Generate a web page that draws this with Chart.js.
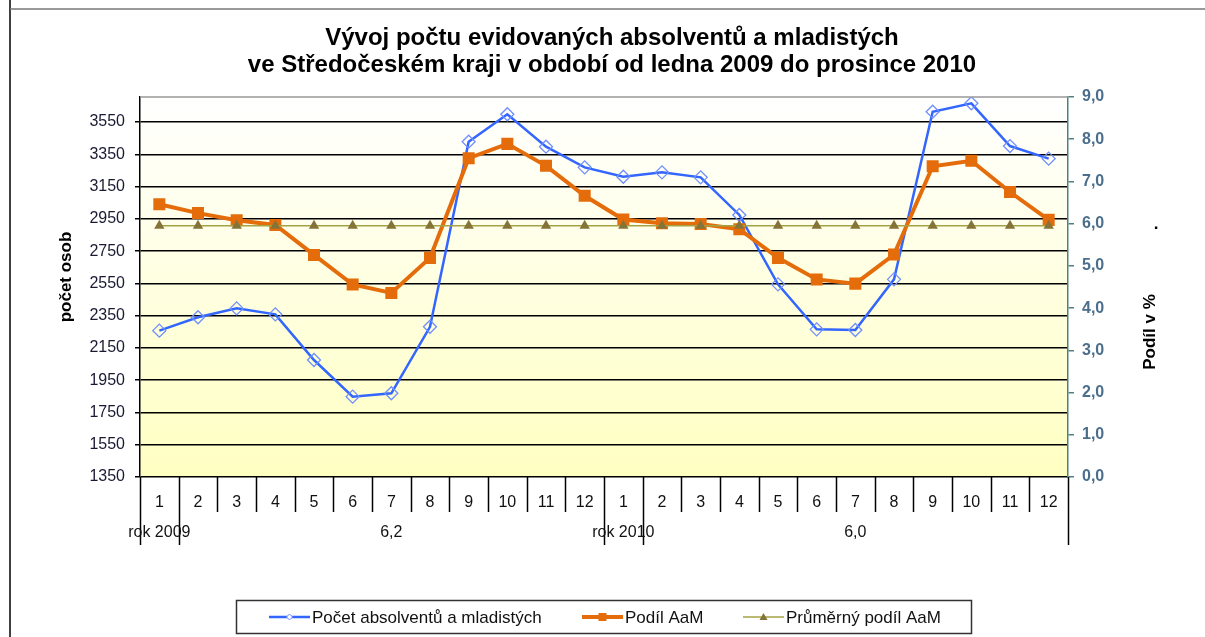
<!DOCTYPE html>
<html>
<head>
<meta charset="utf-8">
<script src="https://cdn.jsdelivr.net/npm/chart.js@4.4.1/dist/chart.umd.min.js"></script>
<style>
  html, body { margin: 0; padding: 0; background: #fff; }
  #wrap { width: 1205px; height: 637px; }
</style>
</head>
<body>
<div id="wrap"><canvas id="chart" width="1205" height="637"></canvas></div>
<script>
// months of 2009 and 2010
var months = ["1", "2", "3", "4", "5", "6", "7", "8", "9", "10", "11", "12",
              "1", "2", "3", "4", "5", "6", "7", "8", "9", "10", "11", "12"];

// počet absolventů a mladistých (left axis)
var pocet = [2257, 2340, 2395, 2358, 2075, 1848, 1869, 2281, 3428, 3598, 3397, 3269,
             3211, 3238, 3207, 2974, 2544, 2265, 2261, 2575, 3614, 3666, 3401, 3323];

// podíl AaM v % (right axis)
var podil = [6.46, 6.25, 6.08, 5.97, 5.26, 4.56, 4.36, 5.19, 7.55, 7.89, 7.37, 6.66,
             6.10, 6.01, 5.99, 5.87, 5.19, 4.68, 4.58, 5.27, 7.36, 7.49, 6.75, 6.09];

// průměrný podíl AaM
var prumer = [5.95, 5.95, 5.95, 5.95, 5.95, 5.95, 5.95, 5.95, 5.95, 5.95, 5.95, 5.95,
              5.95, 5.95, 5.95, 5.95, 5.95, 5.95, 5.95, 5.95, 5.95, 5.95, 5.95, 5.95];

// second row of category labels and the month spans they cover
var groupLabels = ["rok 2009", "6,2", "rok 2010", "6,0"];
var groupFrom = [0, 1, 12, 13];
var groupTo = [1, 12, 13, 24];

var leftTicks = [1350, 1550, 1750, 1950, 2150, 2350, 2550, 2750, 2950, 3150, 3350, 3550];

var titleLines = ["Vývoj počtu evidovaných absolventů a mladistých",
                  "ve Středočeském kraji v období od ledna 2009 do prosince 2010"];
var seriesNames = ["Počet absolventů a mladistých", "Podíl AaM", "Průměrný podíl AaM"];

var FONT = "'Liberation Sans', Arial, sans-serif";
var BLUE = "#3366ff", ORANGE = "#e46c0a", OLIVE = "#a3a345", OLIVE_PT = "#857438", TEAL = "#4f8080";

var decor = {
  id: "decor",
  beforeDraw: function (chart) {
    var ctx = chart.ctx, a = chart.chartArea;
    ctx.save();
    ctx.fillStyle = "#fff";
    ctx.fillRect(0, 0, chart.width, chart.height);
    var g = ctx.createLinearGradient(0, a.top, 0, a.bottom);
    g.addColorStop(0, "#ffffff");
    g.addColorStop(1, "#ffffc2");
    ctx.fillStyle = g;
    ctx.fillRect(a.left, a.top, a.right - a.left, a.bottom - a.top);
    ctx.restore();
  },
  afterDraw: function (chart) {
    var ctx = chart.ctx, a = chart.chartArea, x = chart.scales.x;
    var cell = (x.right - x.left) / months.length;
    ctx.save();

    // frame of the chart object
    ctx.strokeStyle = "#000";
    ctx.lineWidth = 1.5;
    ctx.beginPath();
    ctx.moveTo(10, 0); ctx.lineTo(10, chart.height);
    ctx.stroke();
    ctx.strokeStyle = "#777";
    ctx.beginPath();
    ctx.moveTo(10, 9); ctx.lineTo(chart.width, 9);
    ctx.stroke();

    // top edge of plot area
    ctx.strokeStyle = "#999";
    ctx.lineWidth = 1.5;
    ctx.beginPath();
    ctx.moveTo(a.left, a.top); ctx.lineTo(a.right, a.top);
    ctx.stroke();

    // category table separators
    ctx.strokeStyle = "#000";
    ctx.lineWidth = 1.5;
    for (var b = 0; b <= months.length; b++) {
      var px = Math.round(x.left + b * cell) + 0.5;
      var long = groupFrom.indexOf(b) >= 0 || b === months.length;
      ctx.beginPath();
      ctx.moveTo(px, a.bottom);
      ctx.lineTo(px, a.bottom + (long ? 68 : 35));
      ctx.stroke();
    }

    // second row labels
    ctx.fillStyle = "#111";
    ctx.font = "16px " + FONT;
    ctx.textAlign = "center";
    ctx.textBaseline = "middle";
    for (var i = 0; i < groupLabels.length; i++) {
      var cx = x.left + (groupFrom[i] + groupTo[i]) / 2 * cell;
      ctx.fillText(groupLabels[i], cx, a.bottom + 56);
    }

    // title
    ctx.fillStyle = "#000";
    ctx.font = "bold 24px " + FONT;
    ctx.fillText(titleLines[0], 612, 38);
    ctx.fillText(titleLines[1], 612, 65);

    // axis titles
    ctx.font = "bold 17px " + FONT;
    ctx.save();
    ctx.translate(66, 277);
    ctx.rotate(-Math.PI / 2);
    ctx.fillText("počet osob", 0, 0);
    ctx.restore();
    ctx.save();
    ctx.translate(1150, 332);
    ctx.rotate(-Math.PI / 2);
    ctx.fillText("Podíl v %", 0, 0);
    ctx.restore();
    ctx.fillText(".", 1156, 224);

    // legend
    ctx.strokeStyle = "#333";
    ctx.lineWidth = 1.5;
    ctx.strokeRect(236.5, 600.5, 735, 33);
    var ly = 617;
    var starts = [269, 582, 743];
    var colors = [BLUE, ORANGE, OLIVE];
    var widths = [2.5, 4, 1.5];
    ctx.font = "17px " + FONT;
    ctx.textAlign = "left";
    for (var k = 0; k < 3; k++) {
      var sx = starts[k];
      ctx.strokeStyle = colors[k];
      ctx.lineWidth = widths[k];
      ctx.beginPath();
      ctx.moveTo(sx, ly); ctx.lineTo(sx + 41, ly);
      ctx.stroke();
      var mx = sx + 20.5;
      ctx.beginPath();
      if (k === 0) {
        ctx.strokeStyle = "#6f8fff"; ctx.lineWidth = 1;
        ctx.moveTo(mx, ly - 3); ctx.lineTo(mx + 3, ly); ctx.lineTo(mx, ly + 3); ctx.lineTo(mx - 3, ly); ctx.closePath();
        ctx.fillStyle = "#fff"; ctx.fill(); ctx.stroke();
      } else if (k === 1) {
        ctx.fillStyle = ORANGE;
        ctx.fillRect(mx - 4, ly - 4, 8, 8);
      } else {
        ctx.fillStyle = OLIVE_PT;
        ctx.moveTo(mx, ly - 4); ctx.lineTo(mx + 4, ly + 3); ctx.lineTo(mx - 4, ly + 3); ctx.closePath();
        ctx.fill();
      }
      ctx.fillStyle = "#111";
      ctx.fillText(seriesNames[k], sx + 43, ly + 1);
    }
    ctx.restore();
  }
};

var config = {
  type: "line",
  data: {
    labels: months,
    datasets: [
      {
        label: seriesNames[0],
        data: pocet,
        yAxisID: "yL",
        borderColor: BLUE,
        borderWidth: 2.5,
        pointStyle: "rectRot",
        pointRadius: 6.5,
        pointBackgroundColor: "rgba(255,255,255,0)",
        pointBorderColor: "#6f8fff",
        pointBorderWidth: 1.3,
        tension: 0,
        order: 3
      },
      {
        label: seriesNames[1],
        data: podil,
        yAxisID: "yR",
        borderColor: ORANGE,
        borderWidth: 4,
        pointStyle: "rect",
        pointRadius: 8.5,
        pointBackgroundColor: ORANGE,
        pointBorderColor: ORANGE,
        pointBorderWidth: 0,
        tension: 0,
        order: 2
      },
      {
        label: seriesNames[2],
        data: prumer,
        yAxisID: "yR",
        borderColor: OLIVE,
        borderWidth: 1.5,
        pointStyle: "triangle",
        pointRadius: 6,
        pointBackgroundColor: OLIVE_PT,
        pointBorderColor: OLIVE_PT,
        pointBorderWidth: 0,
        tension: 0,
        order: 1
      }
    ]
  },
  options: {
    responsive: false,
    animation: false,
    layout: { padding: { top: 97, bottom: 92, left: 0, right: 0 } },
    plugins: {
      legend: { display: false },
      title: { display: false },
      tooltip: { enabled: false }
    },
    scales: {
      x: {
        offset: true,
        grid: { display: false },
        border: { display: false },
        ticks: {
          color: "#111",
          font: { family: FONT, size: 16 },
          padding: 8,
          maxRotation: 0,
          autoSkip: false
        },
        afterFit: function (s) { s.height = 68; }
      },
      yL: {
        position: "left",
        min: 1350,
        max: 3705,
        afterBuildTicks: function (s) {
          s.ticks = leftTicks.map(function (v) { return { value: v }; });
        },
        grid: { color: "#000", lineWidth: 1.5, tickLength: 5 },
        border: { color: "#000", width: 1.5 },
        ticks: {
          color: "#1a1a33",
          font: { family: FONT, size: 16 },
          padding: 10,
          callback: function (v) { return String(v); }
        },
        afterFit: function (s) { s.width = 140; }
      },
      yR: {
        position: "right",
        min: 0,
        max: 9,
        grid: { drawOnChartArea: false, color: TEAL, lineWidth: 1.5, tickLength: 6 },
        border: { color: TEAL, width: 1.5 },
        ticks: {
          stepSize: 1,
          color: "#4a6e8c",
          font: { family: FONT, size: 16, weight: "bold" },
          padding: 8,
          callback: function (v) { return v.toFixed(1).replace(".", ","); }
        },
        afterFit: function (s) { s.width = 137; }
      }
    }
  },
  plugins: [decor]
};

var myChart = new Chart(document.getElementById("chart"), config);
</script>
</body>
</html>
